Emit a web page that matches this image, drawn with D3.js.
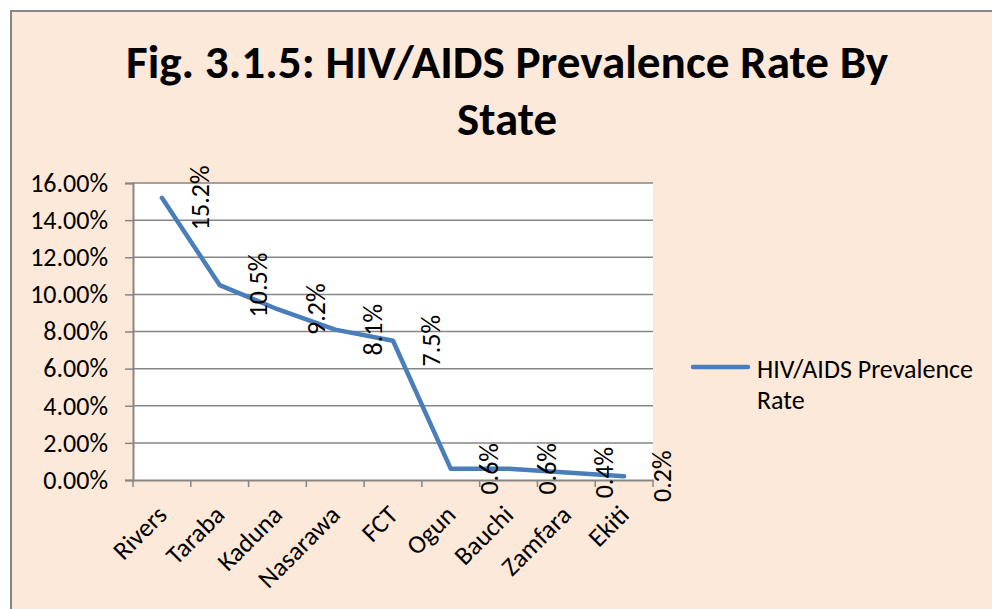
<!DOCTYPE html>
<html>
<head>
<meta charset="utf-8">
<script src="https://cdn.jsdelivr.net/npm/d3@7"></script>
<style>
  body { margin: 0; background: #fff; }
  svg { display: block; }
  text { font-family: Carlito, Lato, "Open Sans", sans-serif; fill: #000; }
</style>
</head>
<body>
<div id="chart"></div>
<script>
const states = ["Rivers", "Taraba", "Kaduna", "Nasarawa", "FCT", "Ogun", "Bauchi", "Zamfara", "Ekiti"];
const prevalence = [0.152, 0.105, 0.092, 0.081, 0.075, 0.006, 0.006, 0.004, 0.002];
const yTicks = [0, 0.02, 0.04, 0.06, 0.08, 0.10, 0.12, 0.14, 0.16];
const titleLines = ["Fig. 3.1.5: HIV/AIDS Prevalence Rate By", "State"];
const seriesName = ["HIV/AIDS Prevalence", "Rate"];

const width = 992, height = 609,
      plot = {left: 133, right: 653, top: 183, bottom: 480},
      lineColor = "#4a7ebb",
      gridColor = "#868686",
      fontSize = "26px";

const svg = d3.select("#chart").append("svg")
  .attr("width", width)
  .attr("height", height);

// chart area (runs off the right and bottom edge like the original)
svg.append("rect")
  .attr("x", 11).attr("y", 11)
  .attr("width", 1100).attr("height", 800)
  .style("fill", "#fde9d9")
  .style("stroke", gridColor)
  .style("stroke-width", 2);

svg.append("rect")
  .attr("x", plot.left).attr("y", plot.top)
  .attr("width", plot.right - plot.left).attr("height", plot.bottom - plot.top)
  .style("fill", "#fff");

// title
svg.selectAll("text.title")
  .data(titleLines)
  .enter()
  .append("text")
  .classed("title", true)
  .attr("x", 507)
  .attr("y", (d, i) => 78 + i * 57)
  .attr("text-anchor", "middle")
  .attr("textLength", (d, i) => i === 0 ? 762 : 100)
  .attr("lengthAdjust", "spacingAndGlyphs")
  .style("font-size", "46px")
  .style("font-weight", "bold")
  .text(d => d);

const x = d3.scaleBand().domain(states).range([plot.left, plot.right]);
const y = d3.scaleLinear().domain([0, 0.16]).range([plot.bottom, plot.top]);

// gridlines
svg.append("g")
  .selectAll("line")
  .data(yTicks.filter(d => d > 0))
  .enter()
  .append("line")
  .attr("x1", plot.left).attr("x2", plot.right)
  .attr("y1", d => y(d)).attr("y2", d => y(d))
  .style("stroke", gridColor)
  .style("stroke-width", 1.5);

// y axis
const yAxis = svg.append("g")
  .attr("transform", `translate(${plot.left},0)`)
  .call(d3.axisLeft(y).tickValues(yTicks).tickFormat(d3.format(".2%")).tickSize(8).tickPadding(17));
yAxis.select(".domain").style("stroke", gridColor).style("stroke-width", 2);
yAxis.selectAll(".tick line").style("stroke", gridColor).style("stroke-width", 1.5);
yAxis.selectAll(".tick text")
  .style("font-size", fontSize)
  .style("font-family", "Carlito, Lato, 'Open Sans', sans-serif")
  .style("fill", "#000");

// x axis: ticks at category boundaries
const xAxis = svg.append("g")
  .attr("transform", `translate(0,${plot.bottom})`)
  .call(d3.axisBottom(x).tickSize(0).tickFormat(""));
xAxis.select(".domain").style("stroke", gridColor).style("stroke-width", 2);
xAxis.selectAll(".boundary")
  .data(states.map(d => x(d)).concat([plot.right]))
  .enter()
  .append("line")
  .classed("boundary", true)
  .attr("x1", d => d).attr("x2", d => d)
  .attr("y1", 0).attr("y2", 7)
  .style("stroke", gridColor)
  .style("stroke-width", 1.5);

svg.append("g")
  .selectAll("text")
  .data(states)
  .enter()
  .append("text")
  .attr("transform", d => `translate(${x(d) + x.bandwidth() / 2},${plot.bottom + 30}) rotate(-45)`)
  .attr("text-anchor", "end")
  .attr("dy", "0.35em")
  .style("font-size", fontSize)
  .text(d => d);

// series line
const line = d3.line()
  .x((d, i) => x(states[i]) + x.bandwidth() / 2)
  .y(d => y(d));

svg.append("path")
  .datum(prevalence)
  .attr("d", line)
  .style("fill", "none")
  .style("stroke", lineColor)
  .style("stroke-width", 4.5)
  .style("stroke-linejoin", "round")
  .style("stroke-linecap", "round");

// data labels, rotated
svg.append("g")
  .selectAll("text")
  .data(prevalence)
  .enter()
  .append("text")
  .attr("transform", (d, i) => `translate(${x(states[i]) + x.bandwidth() / 2 + 38},${y(d)}) rotate(-90)`)
  .attr("text-anchor", "middle")
  .attr("dy", "0.35em")
  .style("font-size", fontSize)
  .text(d => d3.format(".1%")(d));

// legend
svg.append("line")
  .attr("x1", 693).attr("x2", 748)
  .attr("y1", 367).attr("y2", 367)
  .style("stroke", lineColor)
  .style("stroke-width", 4.5)
  .style("stroke-linecap", "round");

svg.selectAll("text.legend")
  .data(seriesName)
  .enter()
  .append("text")
  .classed("legend", true)
  .attr("x", 757)
  .attr("y", (d, i) => 378 + i * 31)
  .style("font-size", fontSize)
  .text(d => d);
</script>
</body>
</html>
